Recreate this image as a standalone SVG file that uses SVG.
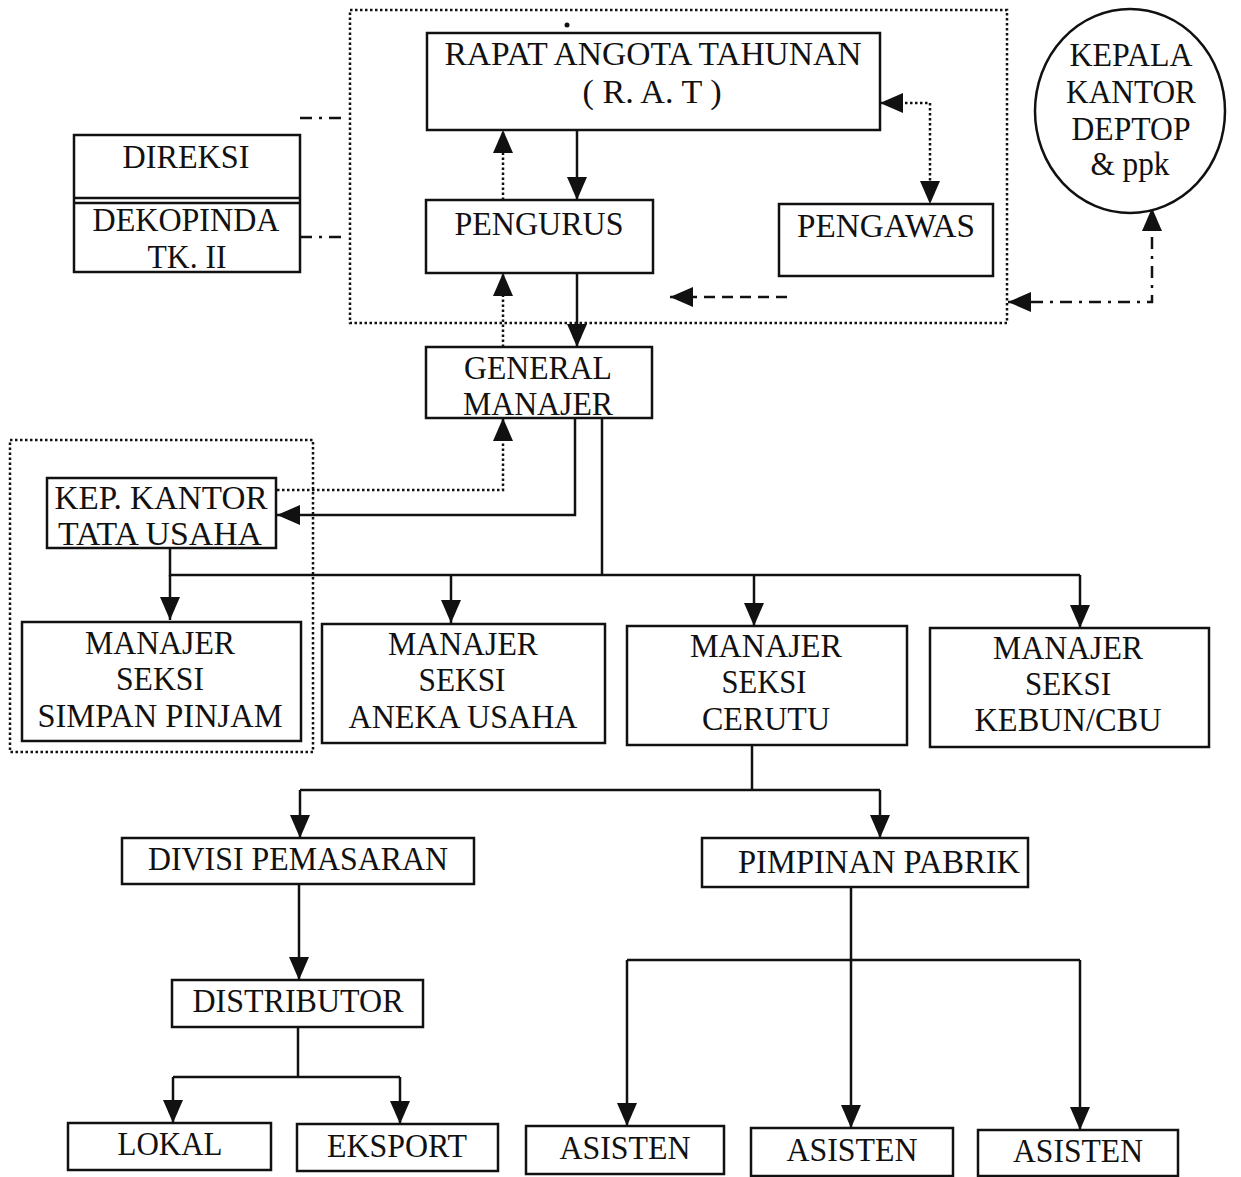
<svg xmlns="http://www.w3.org/2000/svg" width="1241" height="1177" viewBox="0 0 1241 1177">
<style>
.box{fill:#fff;stroke:#111;stroke-width:2.5}
.t{font-family:"Liberation Serif","Times New Roman",serif;font-size:33px;fill:#111;text-anchor:middle}
.c{fill:none;stroke:#111;stroke-width:2.5}
.dot{fill:none;stroke:#111;stroke-width:2.5;stroke-dasharray:2.5 2.5}
.dash{fill:none;stroke:#111;stroke-width:2.5;stroke-dasharray:11 7}
.dd{fill:none;stroke:#111;stroke-width:2.5;stroke-dasharray:12 7 3 7}
</style>
<defs>
<marker id="ah" markerUnits="userSpaceOnUse" markerWidth="26" markerHeight="22" refX="23" refY="10" orient="auto-start-reverse">
<path d="M0,0 L23,10 L0,20 z" fill="#111" stroke="none"/>
</marker>
</defs>
<rect width="1241" height="1177" fill="#fff"/>

<g id="groups">
<rect x="350" y="10" width="657" height="313" class="dot"/>
<rect x="10" y="440" width="303" height="312" class="dot"/>
<circle cx="567" cy="25" r="2.5" fill="#111"/>
</g>

<g id="connectors">
<path d="M577,130 V200" class="c" marker-end="url(#ah)"/>
<path d="M503,200 V130" class="dot" marker-end="url(#ah)"/>
<path d="M880,103 H930 V204" class="dot" marker-start="url(#ah)" marker-end="url(#ah)"/>
<path d="M787,297 H670" class="dash" marker-end="url(#ah)"/>
<path d="M1152,208 V302 H1008" class="dd" marker-start="url(#ah)" marker-end="url(#ah)"/>
<path d="M300,118 H342" class="dd"/>
<path d="M300,237 H342" class="dd"/>
<path d="M577,273 V347" class="c" marker-end="url(#ah)"/>
<path d="M503,347 V273" class="dot" marker-end="url(#ah)"/>
<path d="M277,490 H503 V418" class="dot" marker-end="url(#ah)"/>
<path d="M575,418 V515 H277" class="c" marker-end="url(#ah)"/>
<path d="M602,418 V575" class="c"/>
<path d="M170,548 V575 H1080" class="c"/>
<path d="M170,575 V620" class="c" marker-end="url(#ah)"/>
<path d="M451,575 V623" class="c" marker-end="url(#ah)"/>
<path d="M754,575 V626" class="c" marker-end="url(#ah)"/>
<path d="M1080,575 V628" class="c" marker-end="url(#ah)"/>
<path d="M752,745 V790" class="c"/>
<path d="M300,790 H880" class="c"/>
<path d="M300,790 V838" class="c" marker-end="url(#ah)"/>
<path d="M880,790 V838" class="c" marker-end="url(#ah)"/>
<path d="M299,884 V980" class="c" marker-end="url(#ah)"/>
<path d="M298,1027 V1077" class="c"/>
<path d="M173,1077 H400" class="c"/>
<path d="M173,1077 V1123" class="c" marker-end="url(#ah)"/>
<path d="M400,1077 V1124" class="c" marker-end="url(#ah)"/>
<path d="M851,887 V1128" class="c" marker-end="url(#ah)"/>
<path d="M627,960 H1080" class="c"/>
<path d="M627,960 V1126" class="c" marker-end="url(#ah)"/>
<path d="M1080,960 V1130" class="c" marker-end="url(#ah)"/>
</g>

<g id="rat">
<rect x="427" y="33" width="453" height="97" class="box"/>
<text x="653" y="65" class="t" textLength="417" lengthAdjust="spacingAndGlyphs">RAPAT ANGOTA TAHUNAN</text>
<text x="652" y="103" class="t" textLength="139" lengthAdjust="spacingAndGlyphs">( R. A. T )</text>
</g>
<g id="direksi">
<rect x="74" y="135" width="226" height="137" class="box"/>
<line x1="74" y1="198" x2="300" y2="198" class="c"/>
<line x1="74" y1="203" x2="300" y2="203" class="c"/>
<text x="186" y="168" class="t" textLength="127" lengthAdjust="spacingAndGlyphs">DIREKSI</text>
<text x="186" y="231" class="t" textLength="187" lengthAdjust="spacingAndGlyphs">DEKOPINDA</text>
<text x="187" y="268" class="t" textLength="79" lengthAdjust="spacingAndGlyphs">TK. II</text>
</g>
<g id="pengurus">
<rect x="426" y="200" width="227" height="73" class="box"/>
<text x="539" y="235" class="t" textLength="169" lengthAdjust="spacingAndGlyphs">PENGURUS</text>
</g>
<g id="pengawas">
<rect x="779" y="204" width="214" height="72" class="box"/>
<text x="886" y="237" class="t" textLength="178" lengthAdjust="spacingAndGlyphs">PENGAWAS</text>
</g>
<g id="kepala">
<ellipse cx="1130" cy="111" rx="95" ry="102" class="box"/>
<text x="1131" y="66" class="t" textLength="123" lengthAdjust="spacingAndGlyphs">KEPALA</text>
<text x="1131" y="103" class="t" textLength="130" lengthAdjust="spacingAndGlyphs">KANTOR</text>
<text x="1131" y="140" class="t" textLength="119" lengthAdjust="spacingAndGlyphs">DEPTOP</text>
<text x="1130" y="175" class="t" textLength="79" lengthAdjust="spacingAndGlyphs">&amp; ppk</text>
</g>
<g id="gm">
<rect x="426" y="347" width="226" height="71" class="box"/>
<text x="538" y="379" class="t" textLength="148" lengthAdjust="spacingAndGlyphs">GENERAL</text>
<text x="538" y="415" class="t" textLength="150" lengthAdjust="spacingAndGlyphs">MANAJER</text>
</g>
<g id="kep">
<rect x="47" y="478" width="229" height="70" class="box"/>
<text x="161" y="509" class="t" textLength="213" lengthAdjust="spacingAndGlyphs">KEP. KANTOR</text>
<text x="160" y="545" class="t" textLength="204" lengthAdjust="spacingAndGlyphs">TATA USAHA</text>
</g>
<g id="ms-sp">
<rect x="22" y="622" width="279" height="119" class="box"/>
<text x="160" y="654" class="t" textLength="150" lengthAdjust="spacingAndGlyphs">MANAJER</text>
<text x="160" y="690" class="t" textLength="88" lengthAdjust="spacingAndGlyphs">SEKSI</text>
<text x="160" y="727" class="t" textLength="245" lengthAdjust="spacingAndGlyphs">SIMPAN PINJAM</text>
</g>
<g id="ms-au">
<rect x="322" y="624" width="283" height="119" class="box"/>
<text x="463" y="655" class="t" textLength="150" lengthAdjust="spacingAndGlyphs">MANAJER</text>
<text x="462" y="691" class="t" textLength="87" lengthAdjust="spacingAndGlyphs">SEKSI</text>
<text x="463" y="728" class="t" textLength="229" lengthAdjust="spacingAndGlyphs">ANEKA USAHA</text>
</g>
<g id="ms-cerutu">
<rect x="627" y="626" width="280" height="119" class="box"/>
<text x="766" y="657" class="t" textLength="152" lengthAdjust="spacingAndGlyphs">MANAJER</text>
<text x="764" y="693" class="t" textLength="85" lengthAdjust="spacingAndGlyphs">SEKSI</text>
<text x="766" y="730" class="t" textLength="128" lengthAdjust="spacingAndGlyphs">CERUTU</text>
</g>
<g id="ms-kebun">
<rect x="930" y="628" width="279" height="119" class="box"/>
<text x="1068" y="659" class="t" textLength="150" lengthAdjust="spacingAndGlyphs">MANAJER</text>
<text x="1068" y="695" class="t" textLength="86" lengthAdjust="spacingAndGlyphs">SEKSI</text>
<text x="1068" y="731" class="t" textLength="187" lengthAdjust="spacingAndGlyphs">KEBUN/CBU</text>
</g>
<g id="divisi">
<rect x="122" y="838" width="352" height="46" class="box"/>
<text x="298" y="870" class="t" textLength="300" lengthAdjust="spacingAndGlyphs">DIVISI PEMASARAN</text>
</g>
<g id="pimpinan">
<rect x="702" y="838" width="326" height="49" class="box"/>
<text x="879" y="873" class="t" textLength="282" lengthAdjust="spacingAndGlyphs">PIMPINAN PABRIK</text>
</g>
<g id="distributor">
<rect x="172" y="980" width="251" height="47" class="box"/>
<text x="298" y="1012" class="t" textLength="211" lengthAdjust="spacingAndGlyphs">DISTRIBUTOR</text>
</g>
<g id="lokal">
<rect x="68" y="1123" width="203" height="47" class="box"/>
<text x="170" y="1155" class="t" textLength="105" lengthAdjust="spacingAndGlyphs">LOKAL</text>
</g>
<g id="eksport">
<rect x="297" y="1124" width="201" height="47" class="box"/>
<text x="397" y="1157" class="t" textLength="140" lengthAdjust="spacingAndGlyphs">EKSPORT</text>
</g>
<g id="asisten1">
<rect x="526" y="1126" width="198" height="48" class="box"/>
<text x="625" y="1159" class="t" textLength="131" lengthAdjust="spacingAndGlyphs">ASISTEN</text>
</g>
<g id="asisten2">
<rect x="751" y="1128" width="202" height="48" class="box"/>
<text x="852" y="1161" class="t" textLength="131" lengthAdjust="spacingAndGlyphs">ASISTEN</text>
</g>
<g id="asisten3">
<rect x="978" y="1130" width="200" height="46" class="box"/>
<text x="1078" y="1162" class="t" textLength="130" lengthAdjust="spacingAndGlyphs">ASISTEN</text>
</g>
</svg>
